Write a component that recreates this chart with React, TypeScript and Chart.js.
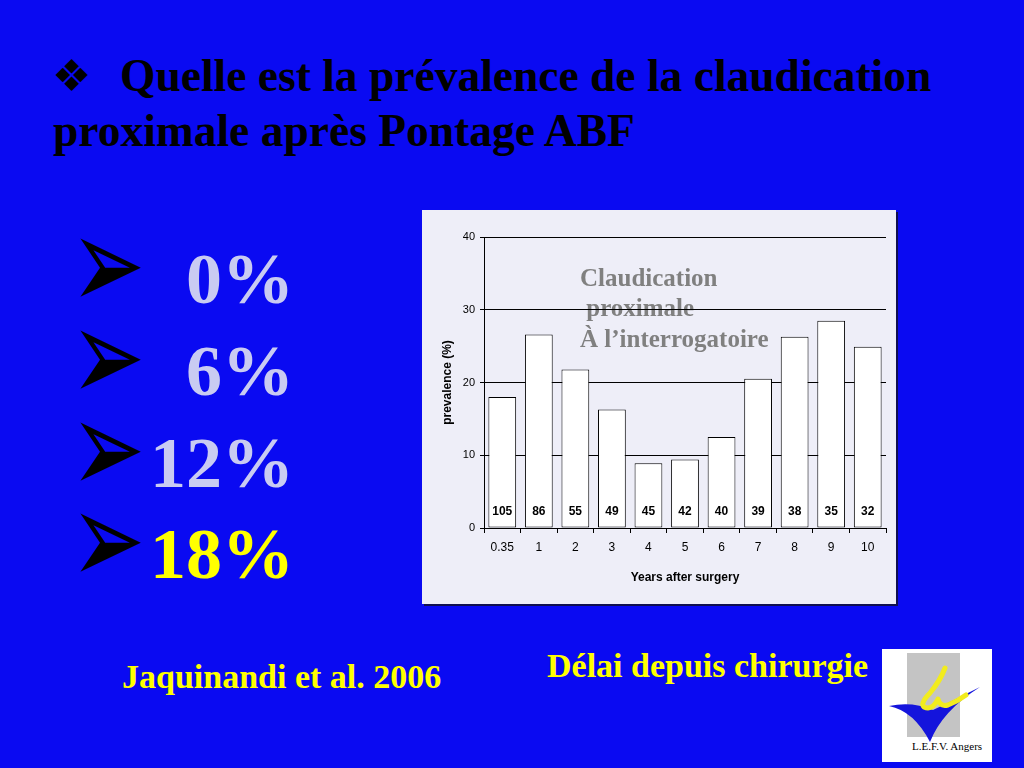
import React, { useEffect, useRef } from "react";
import { Chart, registerables } from "chart.js";

Chart.register(...registerables);

const categories = ["0.35", "1", "2", "3", "4", "5", "6", "7", "8", "9", "10"];
const prevalence = [18.0, 26.6, 21.8, 16.3, 8.9, 9.4, 12.5, 20.5, 26.3, 28.5, 24.9];
const patientsAtRisk = [105, 86, 55, 49, 45, 42, 40, 39, 38, 35, 32];
const yMin = 0;
const yMax = 40;
const yStep = 10;
const annotationLines = ["Claudication", " proximale", "À l’interrogatoire"];
const bulletValues = ["0%", "6%", "12%", "18%"];
const titleLine1 = "Quelle est la prévalence de la claudication";
const titleLine2 = "proximale après Pontage ABF";

const BLUE = "#0a0af2";
const SERIF = "'Liberation Serif', 'Times New Roman', serif";
const SANS = "'Liberation Sans', Arial, sans-serif";

function Txt(props: {
  x: number;
  baseline: number;
  size: number;
  color: string;
  family?: string;
  weight?: string | number;
  right?: boolean;
  extra?: React.CSSProperties;
  children: React.ReactNode;
}) {
  const { x, baseline, size, color, family = SERIF, weight = "bold", right, extra, children } = props;
  const style: React.CSSProperties = {
    position: "absolute",
    top: baseline - 0.84 * size,
    fontSize: size,
    lineHeight: `${size}px`,
    fontFamily: family,
    fontWeight: weight as any,
    color,
    whiteSpace: "pre",
    ...(extra || {}),
  };
  if (right) {
    style.right = 1024 - x;
    style.textAlign = "right";
  } else {
    style.left = x;
  }
  return <div style={style}>{children}</div>;
}

function BarChart() {
  const ref = useRef<HTMLCanvasElement | null>(null);
  useEffect(() => {
    const canvas = ref.current;
    if (!canvas) return;
    const slidePlugin = {
      id: "slideText",
      beforeDraw(chart: any) {
        const ctx = chart.ctx;
        ctx.save();
        ctx.fillStyle = "#808080";
        ctx.font = `bold 25px ${SERIF}`;
        ctx.textBaseline = "alphabetic";
        ctx.textAlign = "left";
        const xs = [158, 158, 158];
        const bs = [76, 106, 137];
        annotationLines.forEach((t, i) => ctx.fillText(t, xs[i], bs[i]));
        ctx.restore();
      },
      afterDatasetsDraw(chart: any) {
        const ctx = chart.ctx;
        const xs = chart.scales.x;
        const ys = chart.scales.y;
        ctx.save();
        ctx.fillStyle = "#000";
        ctx.font = `bold 12px ${SANS}`;
        ctx.textAlign = "center";
        ctx.textBaseline = "middle";
        patientsAtRisk.forEach((n, i) => {
          ctx.fillText(String(n), xs.getPixelForValue(i), ys.getPixelForValue(0) - 16);
        });
        ctx.restore();
      },
    };
    const chart = new Chart(canvas, {
      type: "bar",
      data: {
        labels: categories,
        datasets: [
          {
            data: prevalence,
            backgroundColor: "#ffffff",
            borderColor: "#000000",
            borderWidth: 1,
            borderSkipped: false,
            categoryPercentage: 1,
            barPercentage: 0.76,
          } as any,
        ],
      },
      options: {
        animation: false,
        responsive: false,
        layout: { padding: { top: 27, right: 10, left: 0, bottom: 0 } },
        plugins: { legend: { display: false }, tooltip: { enabled: false } },
        scales: {
          x: {
            grid: {
              display: true,
              drawOnChartArea: false,
              drawTicks: true,
              tickLength: 5,
              color: "#000",
              offset: true,
            },
            border: { display: true, color: "#000" },
            ticks: {
              color: "#000",
              font: { family: SANS, size: 12 },
              padding: 7,
              maxRotation: 0,
              autoSkip: false,
            },
            title: {
              display: true,
              text: "Years after surgery",
              color: "#000",
              font: { family: SANS, size: 12, weight: "bold" },
              padding: { top: 0, bottom: 19 },
            },
            afterFit: (s: any) => {
              s.height = 76;
            },
          },
          y: {
            min: yMin,
            max: yMax,
            ticks: {
              stepSize: yStep,
              color: "#000",
              font: { family: SANS, size: 11 },
              padding: 5,
            },
            grid: { color: "#000", tickLength: 4, lineWidth: 1 },
            border: { display: true, color: "#000" },
            title: {
              display: true,
              text: "prevalence (%)",
              color: "#000",
              font: { family: SANS, size: 12, weight: "bold" },
              padding: { top: 18, bottom: 0 },
            },
            afterFit: (s: any) => {
              s.width = 62;
            },
          },
        },
      } as any,
      plugins: [slidePlugin as any],
    });
    return () => chart.destroy();
  }, []);
  return <canvas ref={ref} width={474} height={394} style={{ display: "block", width: 474, height: 394 }} />;
}

function Logo() {
  return (
    <div
      style={{
        position: "absolute",
        left: 882,
        top: 649,
        width: 110,
        height: 113,
        background: "#ffffff",
      }}
    >
      <svg width={110} height={113} style={{ position: "absolute", left: 0, top: 0 }}>
        <rect x={25} y={4} width={53} height={84} fill="#c4c4c4" />
        <path d="M 7 57 Q 32 62 48 93 Q 60 62 98 38 Q 70 52 51 61 Q 30 52 7 57 Z" fill="#1414dc" />
        <path
          d="M 63 19 Q 58 32 48 44 Q 38 54 42 58 Q 50 62 56 50 Q 58 58 66 56 Q 76 52 84 46"
          fill="none"
          stroke="#f2ec1e"
          strokeWidth={5}
          strokeLinecap="round"
          strokeLinejoin="round"
        />
      </svg>
      <div
        style={{
          position: "absolute",
          left: 30,
          top: 91,
          fontFamily: SERIF,
          fontSize: 11,
          color: "#000",
          whiteSpace: "pre",
        }}
      >
        L.E.F.V. Angers
      </div>
    </div>
  );
}

export default function App() {
  const rowBaselines = [303, 395, 487, 578];
  const rowColors = ["#c9cbf2", "#c9cbf2", "#c9cbf2", "#ffff00"];
  return (
    <div
      style={{
        position: "fixed",
        left: 0,
        top: 0,
        width: 1024,
        height: 768,
        background: BLUE,
        overflow: "hidden",
      }}
    >
      <Txt x={52} baseline={91} size={44} color="#000" family="'DejaVu Sans', sans-serif" weight="normal">
        ❖
      </Txt>
      <Txt x={120} baseline={91} size={45.5} color="#000">
        {titleLine1}
      </Txt>
      <Txt x={53} baseline={146} size={45.5} color="#000">
        {titleLine2}
      </Txt>

      {bulletValues.map((v, i) => (
        <React.Fragment key={v}>
          <Txt
            x={73}
            baseline={rowBaselines[i] - 36 - 34.4 + 55.4}
            size={66}
            color="#000"
            family="'DejaVu Sans', sans-serif"
            weight="normal"
            extra={{ transform: "scale(1.35, 2)", transformOrigin: "7px 34.4px" }}
          >
            ➢
          </Txt>
          <Txt x={294} baseline={rowBaselines[i]} size={72} color={rowColors[i]} right>
            {v}
          </Txt>
        </React.Fragment>
      ))}

      <div
        style={{
          position: "absolute",
          left: 422,
          top: 210,
          width: 474,
          height: 394,
          background: "#eeeef8",
          boxShadow: "2px 2px 0 #101050",
        }}
      >
        <BarChart />
      </div>

      <Txt x={122} baseline={689} size={34} color="#ffff00">
        Jaquinandi et al. 2006
      </Txt>
      <Txt x={547} baseline={678} size={34} color="#ffff00">
        Délai depuis chirurgie
      </Txt>
      <Logo />
    </div>
  );
}
